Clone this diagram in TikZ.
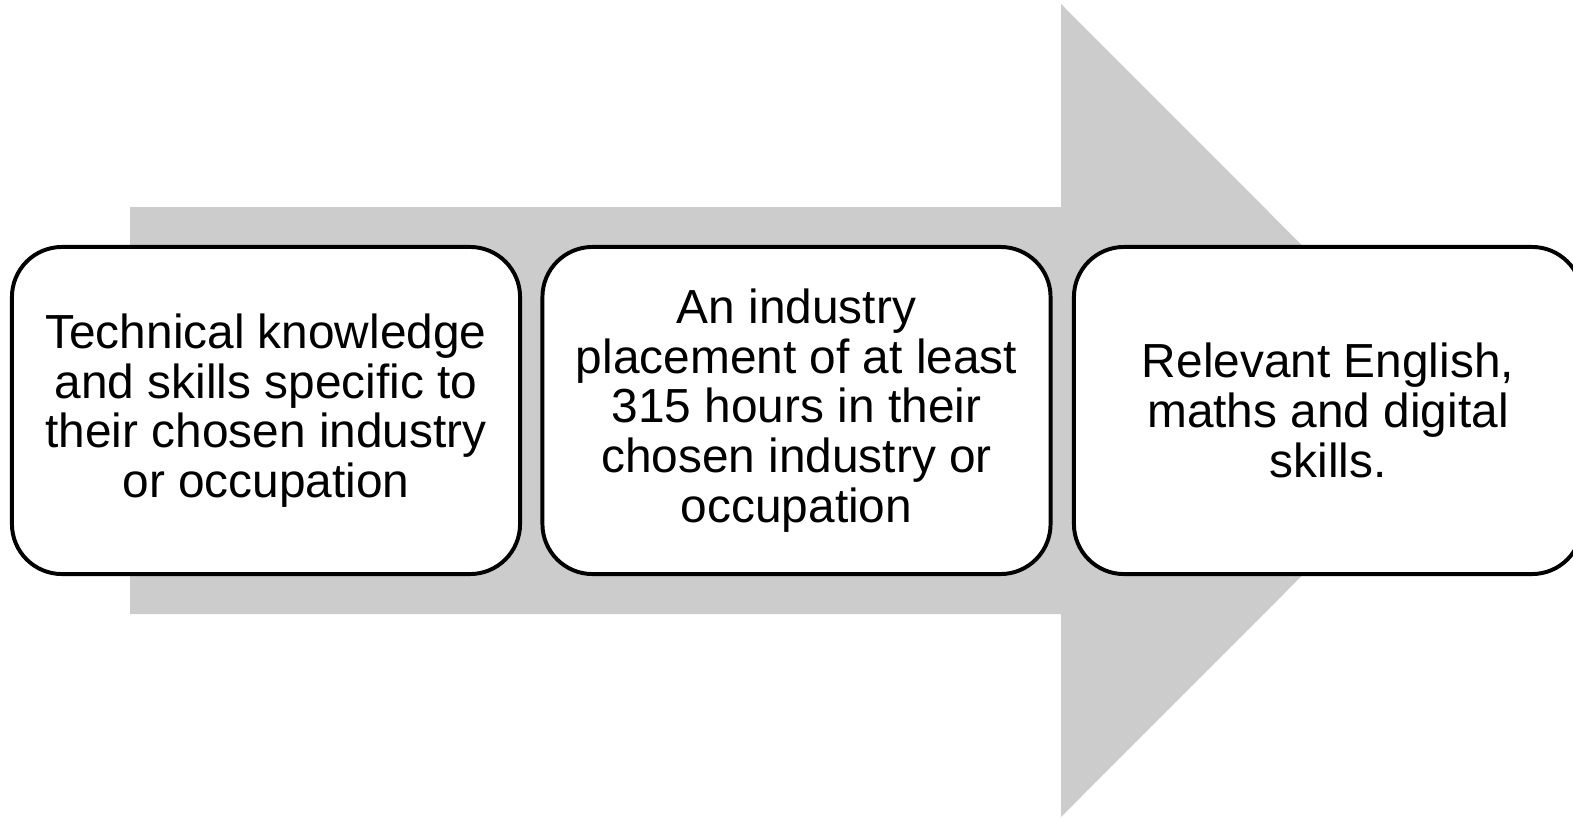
\documentclass[tikz,border=0pt]{standalone}
\usepackage{fontspec}
\setmainfont{Liberation Sans}
\usepackage{tikz}

\tikzset{
    stagebox/.style={draw, line width=2.8pt, fill=white, rounded corners=1.25cm,
        minimum width=12.7cm, minimum height=8.175cm, inner sep=0pt, align=center,
        font=\fontsize{34}{35.3}\selectfont},
    bigarrow/.style={fill=gray!40}
}

\begin{document}
\begin{tikzpicture}[x=0.025cm, y=-0.025cm]
    % \draw[help lines] (0,0) grid[step=100] (1573,818);
    \useasboundingbox (0,0) rectangle (1573,818);
    % grey arrow behind the boxes
    \fill[bigarrow] (130,207) -- (1061,207) -- (1061,4) -- (1467,410.5)
        -- (1061,817) -- (1061,614) -- (130,614) -- cycle;
    % the three boxes, the last one runs off the right edge
    \node[stagebox] (knowledge) at (266, 410.5)
        {Technical knowledge\\and skills specific to\\their chosen industry\\or occupation};
    \node[stagebox] (placement) at (796.5, 410.5)
        {An industry\\placement of at least\\315 hours in their\\chosen industry or\\occupation};
    \node[stagebox] (english) at (1328, 410.5)
        {Relevant English,\\maths and digital\\skills.};
\end{tikzpicture}
\end{document}
